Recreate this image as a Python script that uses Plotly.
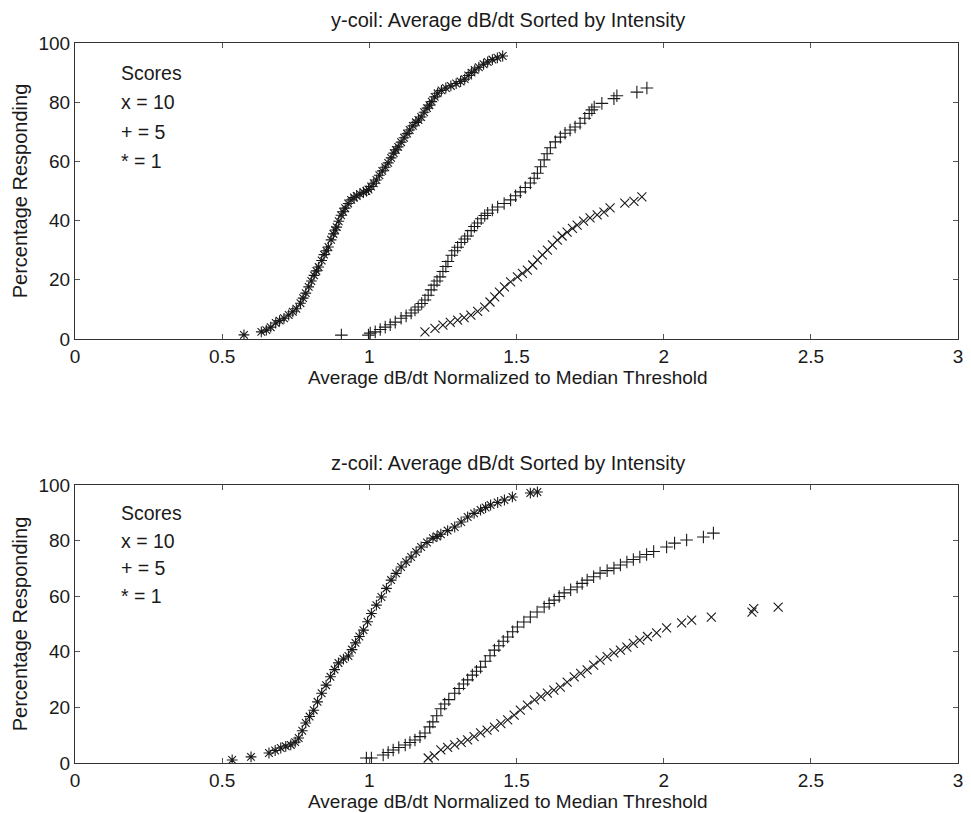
import plotly.graph_objects as go

# ---------------- data ----------------
x_ticks = [0, 0.5, 1, 1.5, 2, 2.5, 3]
x_tick_labels = ["0", "0.5", "1", "1.5", "2", "2.5", "3"]
y_ticks = [0, 20, 40, 60, 80, 100]
y_tick_labels = ["0", "20", "40", "60", "80", "100"]

titles = ["y-coil: Average dB/dt Sorted by Intensity",
          "z-coil: Average dB/dt Sorted by Intensity"]
x_title = "Average dB/dt Normalized to Median Threshold"
y_title = "Percentage Responding"
legend_lines = ["Scores", "x = 10", "+ = 5", "* = 1"]
legend_y = [90, 80, 70, 60]

# y-coil, score 1 ('*')
y1_x = [0.574, 0.633, 0.650, 0.665, 0.682, 0.695, 0.710, 0.726, 0.740, 0.752, 0.766, 0.775,
        0.784, 0.794, 0.803, 0.812, 0.820, 0.828, 0.838, 0.846, 0.854, 0.861, 0.870, 0.878,
        0.884, 0.889, 0.896, 0.904, 0.911, 0.918, 0.928, 0.938, 0.948, 0.957, 0.968, 0.980,
        0.990, 0.997, 1.006, 1.015, 1.024, 1.034, 1.044, 1.054, 1.064, 1.074, 1.083, 1.090,
        1.098, 1.108, 1.118, 1.128, 1.137, 1.148, 1.158, 1.167, 1.176, 1.186, 1.196, 1.204,
        1.212, 1.222, 1.232, 1.245, 1.260, 1.277, 1.295, 1.310, 1.324, 1.336, 1.347, 1.358,
        1.372, 1.388, 1.402, 1.418, 1.435, 1.453]
y1_y = [1.4, 2.4, 3.0, 4.0, 5.4, 6.2, 7.0, 8.1, 9.2, 10.2, 12.1, 13.8,
        15.5, 17.6, 19.6, 21.5, 23.0, 24.3, 26.5, 28.5, 29.8, 31.1, 33.5, 35.5,
        36.8, 37.8, 39.8, 41.8, 43.0, 44.2, 45.8, 47.0, 47.8, 48.3, 49.0, 49.6,
        50.0, 50.5, 51.5, 52.6, 53.7, 55.3, 56.8, 58.0, 59.5, 61.2, 62.8, 63.9,
        64.9, 66.5, 68.0, 69.4, 70.6, 72.0, 73.2, 74.0, 75.0, 76.6, 78.0, 79.0,
        80.2, 81.8, 83.0, 84.0, 84.8, 85.5, 86.3, 87.0, 87.8, 89.0, 90.0, 90.9,
        91.8, 92.8, 93.6, 94.4, 95.0, 95.6]

# y-coil, score 5 ('+')
y5_x = [0.905, 0.997, 1.003, 1.020, 1.037, 1.054, 1.071, 1.088, 1.108, 1.125, 1.142, 1.155,
        1.166, 1.178, 1.189, 1.200, 1.210, 1.220, 1.230, 1.240, 1.250, 1.260, 1.267, 1.280,
        1.290, 1.300, 1.312, 1.324, 1.334, 1.346, 1.357, 1.368, 1.380, 1.392, 1.402, 1.418,
        1.436, 1.458, 1.480, 1.497, 1.513, 1.530, 1.547, 1.560, 1.571, 1.582, 1.594, 1.604,
        1.615, 1.632, 1.649, 1.665, 1.682, 1.699, 1.716, 1.732, 1.747, 1.756, 1.764, 1.790,
        1.831, 1.841, 1.909, 1.943]
y5_y = [1.3, 1.3, 2.0, 2.4, 3.2, 4.0, 4.8, 5.7, 7.0, 7.8, 8.8, 9.8,
        10.8, 12.0, 13.2, 14.8, 16.6, 18.2, 19.6, 21.0, 22.8, 24.5, 26.2, 28.3,
        29.8, 31.0, 32.6, 33.8, 34.8, 36.6, 38.0, 39.2, 40.6, 41.7, 42.5, 43.6,
        44.6, 45.8, 47.0, 48.4, 49.7, 51.2, 52.7, 54.3, 56.0, 58.2, 60.5, 62.6,
        64.6, 66.6, 68.2, 69.5, 70.6, 71.6, 72.9, 74.6, 76.2, 77.4, 78.4, 79.6,
        81.2, 82.2, 83.4, 84.8]

# y-coil, score 10 ('x')
y10_x = [1.189, 1.223, 1.250, 1.275, 1.300, 1.322, 1.345, 1.368, 1.392, 1.410, 1.426, 1.442,
         1.459, 1.480, 1.503, 1.520, 1.537, 1.555, 1.571, 1.588, 1.605, 1.622, 1.639, 1.655,
         1.672, 1.690, 1.706, 1.728, 1.750, 1.774, 1.797, 1.818, 1.868, 1.899, 1.926]
y10_y = [2.4, 3.6, 4.7, 5.6, 6.4, 7.2, 8.1, 9.3, 10.8, 12.5, 14.2, 15.8,
         17.6, 19.3, 21.0, 22.2, 23.3, 25.0, 26.7, 28.4, 30.0, 31.8, 33.4, 34.8,
         36.1, 37.4, 38.5, 39.8, 40.9, 41.9, 42.9, 44.3, 45.9, 46.5, 48.0]

# z-coil, score 1 ('*')
z1_x = [0.534, 0.598, 0.659, 0.680, 0.699, 0.716, 0.733, 0.748, 0.760, 0.772, 0.784, 0.797,
        0.811, 0.824, 0.838, 0.853, 0.868, 0.882, 0.895, 0.912, 0.929, 0.941, 0.953, 0.966,
        0.980, 0.994, 1.007, 1.024, 1.041, 1.058, 1.074, 1.091, 1.108, 1.125, 1.142, 1.159,
        1.176, 1.196, 1.216, 1.230, 1.243, 1.266, 1.290, 1.312, 1.334, 1.356, 1.378, 1.395,
        1.412, 1.436, 1.459, 1.486, 1.547, 1.571]
z1_y = [1.1, 2.2, 3.6, 4.5, 5.4, 6.0, 6.5, 7.5, 9.0, 11.6, 14.4, 16.7,
        19.0, 22.0, 25.1, 28.0, 31.0, 33.6, 36.0, 37.4, 38.5, 40.8, 43.2, 45.5,
        47.8, 50.8, 53.8, 56.8, 59.7, 62.8, 65.8, 68.2, 70.5, 72.3, 74.1, 75.9,
        77.7, 79.3, 80.9, 81.5, 82.3, 83.6, 84.9, 86.7, 88.5, 89.8, 91.0, 91.9,
        92.8, 93.7, 94.6, 95.7, 97.1, 97.5]

# z-coil, score 5 ('+')
z5_x = [0.990, 1.007, 1.047, 1.064, 1.081, 1.100, 1.122, 1.138, 1.155, 1.172, 1.189, 1.205,
        1.216, 1.229, 1.243, 1.256, 1.270, 1.290, 1.305, 1.320, 1.334, 1.350, 1.364, 1.378,
        1.394, 1.410, 1.425, 1.440, 1.455, 1.470, 1.487, 1.503, 1.525, 1.547, 1.570, 1.594,
        1.611, 1.628, 1.645, 1.662, 1.684, 1.706, 1.723, 1.740, 1.762, 1.784, 1.808, 1.831,
        1.853, 1.875, 1.897, 1.919, 1.942, 1.966, 2.010, 2.037, 2.078, 2.135, 2.169]
z5_y = [1.8, 1.8, 2.9, 3.8, 4.7, 5.6, 6.5, 7.4, 8.3, 9.5, 10.8, 13.0,
        14.8, 17.0, 19.5, 21.2, 22.8, 25.1, 26.8, 28.4, 29.9, 31.6, 33.0, 34.5,
        36.6, 38.6, 40.6, 42.2, 43.8, 45.3, 47.2, 48.9, 50.7, 52.5, 54.3, 56.1,
        57.4, 58.6, 59.9, 61.2, 62.3, 63.3, 64.6, 65.8, 67.0, 68.3, 69.2, 70.1,
        71.2, 72.3, 73.2, 74.1, 75.0, 76.1, 77.7, 79.1, 80.2, 81.3, 82.7]

# z-coil, score 10 ('x')
z10_x = [1.200, 1.221, 1.243, 1.266, 1.290, 1.312, 1.334, 1.356, 1.378, 1.400, 1.425, 1.447,
         1.470, 1.492, 1.513, 1.537, 1.561, 1.583, 1.605, 1.627, 1.649, 1.672, 1.696, 1.718,
         1.740, 1.762, 1.784, 1.808, 1.831, 1.853, 1.875, 1.897, 1.919, 1.945, 1.976, 2.010,
         2.061, 2.095, 2.162, 2.300, 2.306, 2.389]
z10_y = [1.8, 2.6, 4.7, 5.6, 6.5, 7.4, 8.3, 9.5, 10.8, 11.8, 12.9, 14.2,
         15.5, 17.2, 19.0, 20.8, 22.7, 23.9, 25.1, 26.2, 27.3, 29.1, 31.0, 32.2,
         33.5, 35.2, 37.0, 38.3, 39.6, 40.6, 41.7, 43.0, 44.2, 45.5, 46.8, 48.6,
         50.4, 51.4, 52.5, 54.3, 55.5, 56.1]

# ---------------- figure ----------------
FONT = "Liberation Sans, Arial, Helvetica, sans-serif"
INK = "#1a1a1a"

panels = [
    ("x", "y", [(y1_x, y1_y, "asterisk-open"), (y5_x, y5_y, "cross-thin-open"),
                (y10_x, y10_y, "x-thin-open")]),
    ("x2", "y2", [(z1_x, z1_y, "asterisk-open"), (z5_x, z5_y, "cross-thin-open"),
                  (z10_x, z10_y, "x-thin-open")]),
]

fig = go.Figure()
for xa, ya, series in panels:
    for xs, ys, sym in series:
        fig.add_trace(go.Scatter(
            x=xs, y=ys, xaxis=xa, yaxis=ya, mode="markers",
            marker=dict(symbol=sym, size=9, color=INK,
                        line=dict(width=1.1, color=INK)),
            showlegend=False, hoverinfo="x+y"))

axis_common = dict(showline=True, linecolor="#333", linewidth=1, mirror="ticks",
                   ticks="inside", ticklen=5, tickcolor="#555", showgrid=False,
                   zeroline=False, tickfont=dict(family=FONT, size=19, color=INK))

top_dom = [(763 - 339) / 720, 1.0]
bot_dom = [0.0, (763 - 485) / 720]

# page body has an 8px margin: figure is sized/placed so the plot lands where the reference has it
fig.update_layout(
    width=963, height=805,
    margin=dict(l=67, r=8, t=35, b=50),
    paper_bgcolor="white", plot_bgcolor="white",
    font=dict(family=FONT, color=INK),
    xaxis=dict(axis_common, range=[0, 3], tickvals=x_ticks, ticktext=x_tick_labels,
               anchor="y", domain=[0, 1]),
    yaxis=dict(axis_common, range=[0, 100], tickvals=y_ticks, ticktext=y_tick_labels,
               anchor="x", domain=top_dom),
    xaxis2=dict(axis_common, range=[0, 3], tickvals=x_ticks, ticktext=x_tick_labels,
                anchor="y2", domain=[0, 1]),
    yaxis2=dict(axis_common, range=[0, 100], tickvals=y_ticks, ticktext=y_tick_labels,
                anchor="x2", domain=bot_dom),
)

ann = []
def py(px):
    return (763 - px) / 720

for title, ty, xty, ymid in [(titles[0], 20, 377, 191), (titles[1], 463, 801, 624)]:
    ann.append(dict(text=title, x=0.49, y=py(ty), xref="paper", yref="paper",
                    xanchor="center", yanchor="middle", showarrow=False,
                    font=dict(size=20, family=FONT, color=INK)))
    ann.append(dict(text=x_title, x=0.49, y=py(xty), xref="paper", yref="paper",
                    xanchor="center", yanchor="middle", showarrow=False,
                    font=dict(size=19, family=FONT, color=INK)))
    ann.append(dict(text=y_title, x=(20 - 75) / 888, y=py(ymid), xref="paper", yref="paper",
                    xanchor="center", yanchor="middle", textangle=-90, showarrow=False,
                    font=dict(size=20, family=FONT, color=INK)))

for xr, yr in [("x", "y"), ("x2", "y2")]:
    for txt, ly in zip(legend_lines, legend_y):
        ann.append(dict(text=txt, x=0.149, y=ly, xref=xr, yref=yr, xanchor="left",
                        yanchor="middle", showarrow=False,
                        font=dict(size=19.5, family=FONT, color=INK)))

fig.update_layout(annotations=ann)
fig.write_html("out.html")
